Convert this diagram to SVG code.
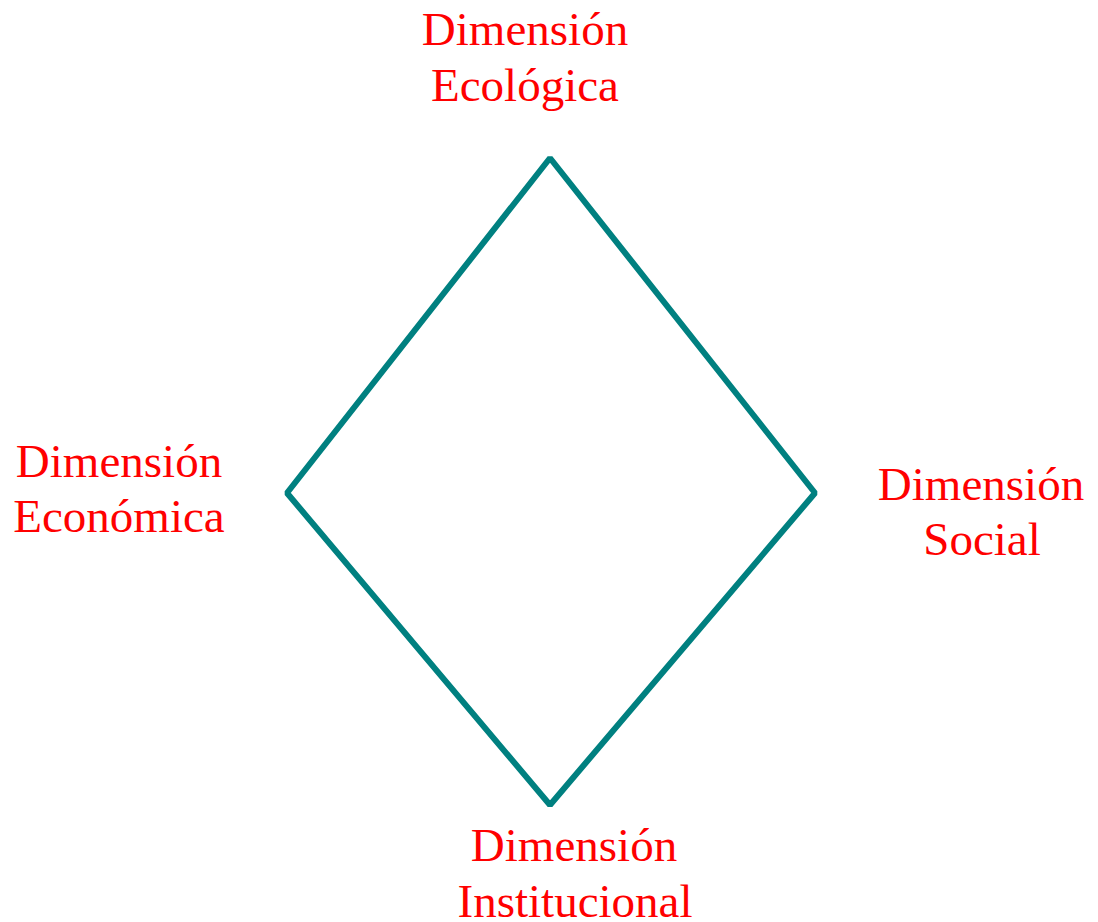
<svg xmlns="http://www.w3.org/2000/svg" width="1098" height="922" viewBox="0 0 1098 922">
<style>
.lbl{font-family:"Liberation Serif","Times New Roman",serif;font-size:47px;fill:#FF0000;text-anchor:middle}
.edge{fill:none;stroke:#008080;stroke-width:6;stroke-linejoin:bevel}
</style>
<rect width="1098" height="922" fill="#FFFFFF"/>
<g id="connectors">
<polygon class="edge" points="550,158 815,493 550,805 287,493"/>
</g>
<g id="node-ecologica"><text class="lbl" x="525" y="45">Dimensión</text><text class="lbl" x="525" y="101">Ecológica</text></g>
<g id="node-economica"><text class="lbl" x="119" y="477">Dimensión</text><text class="lbl" x="119" y="532">Económica</text></g>
<g id="node-social"><text class="lbl" x="981" y="500">Dimensión</text><text class="lbl" x="982" y="555">Social</text></g>
<g id="node-institucional"><text class="lbl" x="574" y="861">Dimensión</text><text class="lbl" x="575" y="917">Institucional</text></g>
</svg>
